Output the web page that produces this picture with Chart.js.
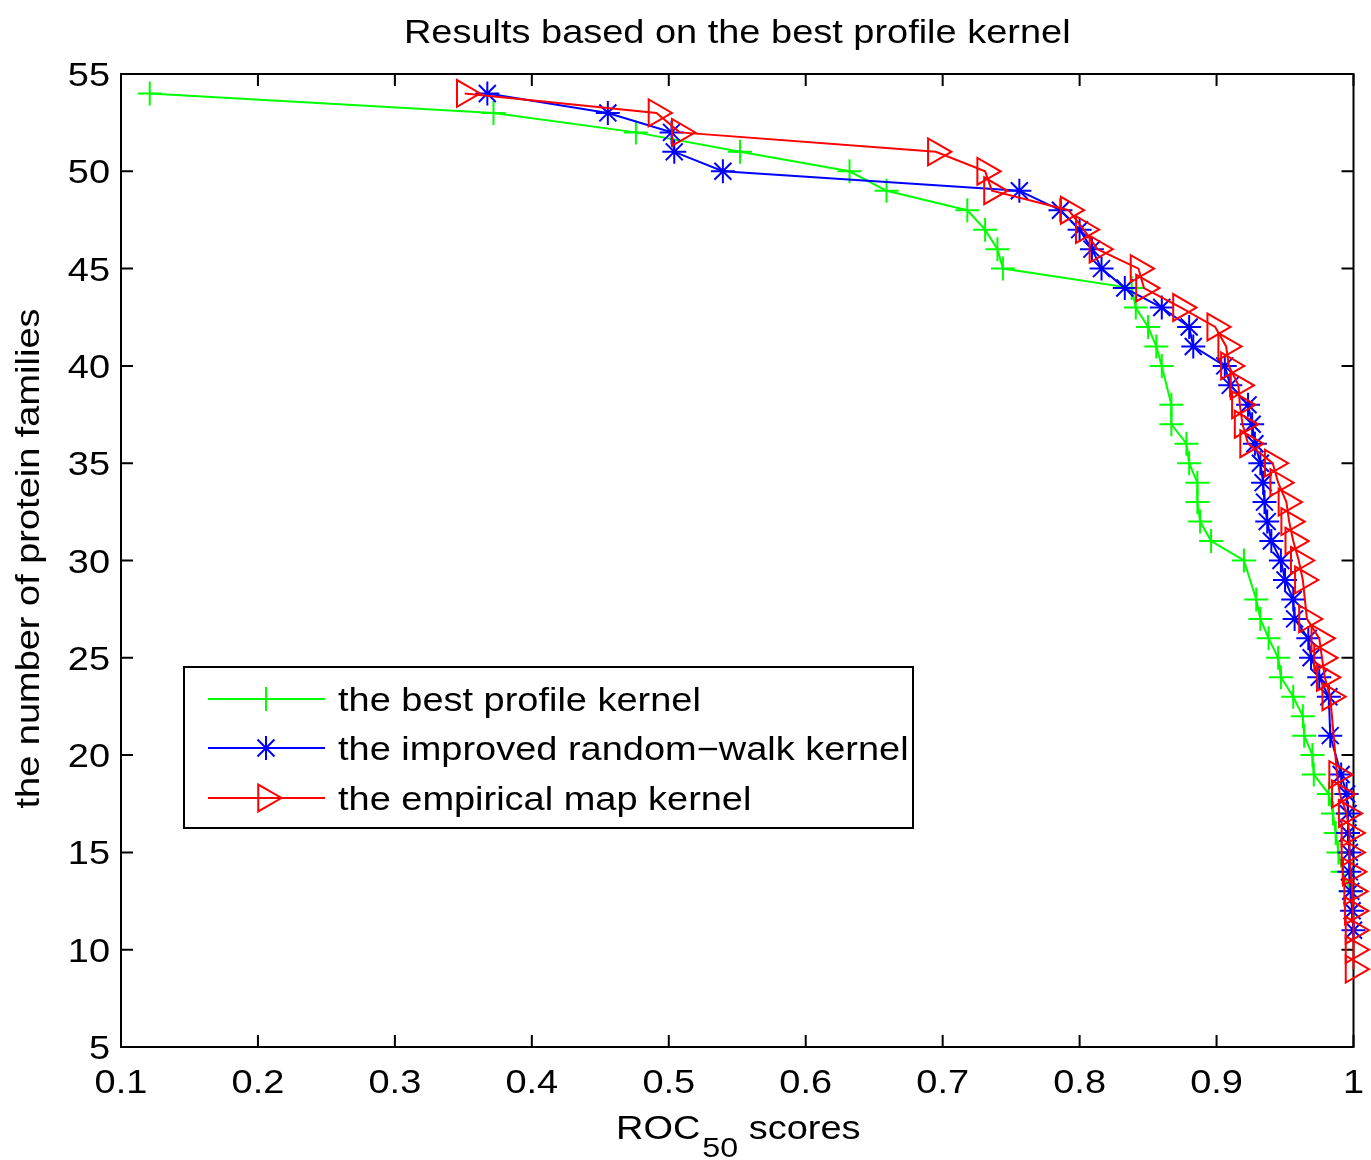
<!DOCTYPE html>
<html>
<head>
<meta charset="utf-8">
<title>Results based on the best profile kernel</title>
<script src="https://cdn.jsdelivr.net/npm/chart.js@4.4.1/dist/chart.umd.min.js"></script>
<style>
  html, body { margin: 0; padding: 0; background: #fff; }
  canvas { display: block; }
</style>
</head>
<body>
<canvas id="rocChart" width="1371" height="1160"></canvas>
<script>
// tick values
const xTicks = [0.1, 0.2, 0.3, 0.4, 0.5, 0.6, 0.7, 0.8, 0.9, 1];
const yTicks = [5, 10, 15, 20, 25, 30, 35, 40, 45, 50, 55];

const seriesNames = [
    "the best profile kernel",
    "the improved random\u2212walk kernel",
    "the empirical map kernel",
];

// the best profile kernel (green +)
const profileCounts = [54, 53, 52, 51, 50, 49, 48, 47, 46, 45, 44, 43, 42, 41, 40, 38, 37, 36, 35, 34,
    33, 32, 31, 30, 28, 27, 26, 25, 24, 23, 22, 21, 20, 19, 18, 17, 16, 15, 14, 13];
const profileScores = [0.121, 0.372, 0.476, 0.552, 0.632, 0.659, 0.718, 0.731, 0.740, 0.744, 0.838, 0.841,
    0.850, 0.856, 0.860, 0.867, 0.867, 0.878, 0.880, 0.886, 0.886, 0.888, 0.896, 0.920, 0.929, 0.932,
    0.938, 0.945, 0.947, 0.956, 0.963, 0.964, 0.970, 0.971, 0.982, 0.985, 0.987, 0.989, 0.992, 0.998];

// the improved random-walk kernel (blue *)
const randomWalkCounts = [54, 53, 52, 51, 50, 49, 48, 47, 46, 45, 44, 43, 42, 41, 40, 39, 38, 37, 36, 35,
    34, 33, 32, 31, 30, 29, 28, 27, 26, 25, 24, 23, 21, 19, 18, 17, 16, 15, 14, 13, 12, 11];
const randomWalkScores = [0.3675, 0.4555, 0.502, 0.504, 0.5395, 0.756, 0.786, 0.800, 0.809, 0.816, 0.833,
    0.860, 0.880, 0.883, 0.906, 0.910, 0.923, 0.926, 0.928, 0.932, 0.934, 0.935, 0.937, 0.940, 0.947,
    0.950, 0.956, 0.957, 0.967, 0.969, 0.975, 0.982, 0.983, 0.991, 0.995, 0.996, 0.996, 0.997, 0.997,
    0.998, 0.999, 1.0];

// the empirical map kernel (red >)
const empiricalCounts = [54, 53, 52, 51, 50, 49, 48, 47, 46, 45, 44, 43, 42, 41, 40, 39, 38, 37, 36, 35,
    34, 33, 32, 31, 30, 29, 27, 26, 25, 24, 23, 19, 18, 17, 16, 15, 14, 13, 12, 11, 10, 9];
const empiricalScores = [0.351, 0.491, 0.508, 0.695, 0.731, 0.736, 0.792, 0.803, 0.813, 0.843, 0.847,
    0.874, 0.899, 0.907, 0.909, 0.916, 0.917, 0.919, 0.923, 0.941, 0.945, 0.951, 0.953, 0.956, 0.960,
    0.963, 0.966, 0.975, 0.977, 0.979, 0.983, 0.988, 0.990, 0.995, 0.997, 0.997, 0.998, 0.999, 0.9995,
    1.0, 1.0, 1.0];

const FONT = '"Liberation Sans", Arial, Helvetica, sans-serif';
const FONT_SIZE = 33;
const TEXT_SX = 1.15; // the figure's text is a bit wide
const TICK_LEN = 12;

function toPoints(scores, counts) {
    return scores.map((s, i) => ({ x: s, y: counts[i] }));
}

function wideText(ctx, str, x, y, align, size) {
    ctx.save();
    ctx.font = `${size}px ${FONT}`;
    const w = ctx.measureText(str).width * TEXT_SX;
    let left = x;
    if (align === "center") left = x - w / 2;
    if (align === "right") left = x - w;
    ctx.translate(left, y);
    ctx.scale(TEXT_SX, 1);
    ctx.textAlign = "left";
    ctx.textBaseline = "alphabetic";
    ctx.fillStyle = "#000";
    ctx.fillText(str, 0, 0);
    ctx.restore();
    return w;
}

const matlabFrame = {
    id: "matlabFrame",
    beforeDatasetsDraw(chart) {
        const { ctx, chartArea: a, scales } = chart;
        ctx.save();
        ctx.fillStyle = "#000";
        // tick labels
        xTicks.forEach((v) => {
            const px = scales.x.getPixelForValue(v);
            wideText(ctx, String(v), px, 1093, "center", FONT_SIZE);
        });
        yTicks.forEach((v) => {
            const py = scales.y.getPixelForValue(v);
            wideText(ctx, String(v), 110, py + 12, "right", FONT_SIZE);
        });
        // box + inward ticks
        ctx.strokeStyle = "#000";
        ctx.lineWidth = 2;
        ctx.strokeRect(a.left, a.top, a.right - a.left, a.bottom - a.top);
        ctx.beginPath();
        xTicks.forEach((v) => {
            const px = scales.x.getPixelForValue(v);
            ctx.moveTo(px, a.bottom);
            ctx.lineTo(px, a.bottom - TICK_LEN);
            ctx.moveTo(px, a.top);
            ctx.lineTo(px, a.top + TICK_LEN);
        });
        yTicks.forEach((v) => {
            const py = scales.y.getPixelForValue(v);
            ctx.moveTo(a.left, py);
            ctx.lineTo(a.left + TICK_LEN, py);
            ctx.moveTo(a.right, py);
            ctx.lineTo(a.right - TICK_LEN, py);
        });
        ctx.stroke();
        ctx.restore();
    },
    afterDraw(chart) {
        const { ctx, chartArea: a } = chart;
        const cx = (a.left + a.right) / 2;

        // title
        wideText(ctx, "Results based on the best profile kernel", cx, 43, "center", FONT_SIZE);

        // x label with subscript
        ctx.save();
        ctx.font = `${FONT_SIZE}px ${FONT}`;
        const w1 = ctx.measureText("ROC").width * TEXT_SX;
        const w3 = ctx.measureText(" scores").width * TEXT_SX;
        ctx.font = `28px ${FONT}`;
        const w2 = ctx.measureText("50").width * TEXT_SX;
        ctx.restore();
        let left = cx - (w1 + w2 + w3) / 2;
        wideText(ctx, "ROC", left, 1139, "left", FONT_SIZE);
        wideText(ctx, "50", left + w1 + 2, 1157, "left", 28);
        wideText(ctx, " scores", left + w1 + w2 + 2, 1139, "left", FONT_SIZE);

        // y label
        ctx.save();
        ctx.translate(39, (a.top + a.bottom) / 2 - 2);
        ctx.rotate(-Math.PI / 2);
        wideText(ctx, "the number of protein families", 0, 0, "center", FONT_SIZE);
        ctx.restore();

        // legend
        const box = { x: 184, y: 667, w: 729, h: 161 };
        ctx.save();
        ctx.fillStyle = "#fff";
        ctx.fillRect(box.x, box.y, box.w, box.h);
        ctx.strokeStyle = "#000";
        ctx.lineWidth = 2;
        ctx.strokeRect(box.x, box.y, box.w, box.h);
        const rows = [699, 748, 798];
        chart.data.datasets.forEach((ds, i) => {
            const ry = rows[i];
            ctx.strokeStyle = ds.borderColor;
            ctx.lineWidth = 2;
            ctx.beginPath();
            ctx.moveTo(208, ry);
            ctx.lineTo(325, ry);
            ctx.stroke();
            ctx.fillStyle = "rgba(0,0,0,0)";
            Chart.helpers.drawPoint(ctx, {
                pointStyle: ds.pointStyle,
                rotation: ds.pointRotation || 0,
                radius: ds.pointRadius,
                borderWidth: 2,
            }, 266, ry);
            wideText(ctx, seriesNames[i], 338, ry + 12, "left", FONT_SIZE);
        });
        ctx.restore();
    },
};

const ctx = document.getElementById("rocChart").getContext("2d");

new Chart(ctx, {
    type: "scatter",
    data: {
        datasets: [
            {
                label: seriesNames[0],
                data: toPoints(profileScores, profileCounts),
                showLine: true,
                borderColor: "#00ff00",
                borderWidth: 2,
                pointStyle: "cross",
                pointRadius: 12,
                pointBorderWidth: 2,
                pointBorderColor: "#00ff00",
                pointBackgroundColor: "rgba(0,0,0,0)",
                order: 3,
                clip: false,
            },
            {
                label: seriesNames[1],
                data: toPoints(randomWalkScores, randomWalkCounts),
                showLine: true,
                borderColor: "#0000ff",
                borderWidth: 2,
                pointStyle: "star",
                pointRadius: 12,
                pointBorderWidth: 2,
                pointBorderColor: "#0000ff",
                pointBackgroundColor: "rgba(0,0,0,0)",
                order: 2,
                clip: false,
            },
            {
                label: seriesNames[2],
                data: toPoints(empiricalScores, empiricalCounts),
                showLine: true,
                borderColor: "#ff0000",
                borderWidth: 2,
                pointStyle: "triangle",
                pointRotation: 90,
                pointRadius: 15.5,
                pointBorderWidth: 2,
                pointBorderColor: "#ff0000",
                pointBackgroundColor: "rgba(0,0,0,0)",
                order: 1,
                clip: false,
            },
        ],
    },
    options: {
        responsive: false,
        animation: false,
        layout: { padding: { top: 74, right: 15, left: 0, bottom: 0 } },
        scales: {
            x: {
                type: "linear",
                min: 0.1,
                max: 1,
                ticks: { display: false },
                grid: { display: false },
                border: { display: false },
                afterFit: (s) => { s.height = 113; },
            },
            y: {
                type: "linear",
                min: 5,
                max: 55,
                ticks: { display: false },
                grid: { display: false },
                border: { display: false },
                afterFit: (s) => { s.width = 121; },
            },
        },
        plugins: {
            legend: { display: false },
            tooltip: { enabled: false },
        },
    },
    plugins: [matlabFrame],
});
</script>
</body>
</html>
